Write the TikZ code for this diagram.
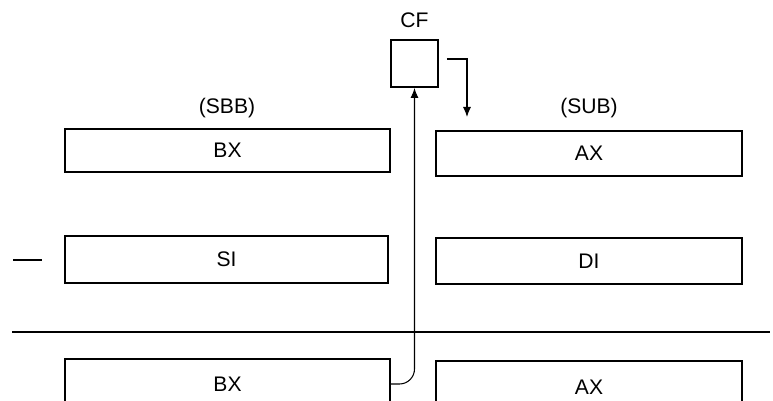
\documentclass[tikz,border=0pt]{standalone}
\usepackage{fontspec}
\setmainfont{Liberation Sans}
\usetikzlibrary{calc,arrows.meta}

\begin{document}
\begin{tikzpicture}[
    x=0.2mm, y=-0.2mm,
    reg/.style={draw, line width=1.1pt, minimum height=45*0.2mm, inner sep=0pt,
                font=\fontsize{12}{14}\selectfont},
    open/.style={minimum height=50*0.2mm, inner sep=0pt,
                 font=\fontsize{12}{14}\selectfont},
    lbl/.style={font=\fontsize{12}{14}\selectfont},
    flow/.style={line width=0.6pt, -{Latex[length=2mm, width=1.6mm]}}
]
\useasboundingbox (0,0) rectangle (773,401);

% carry flag
\node[reg, minimum width=47*0.2mm, minimum height=47*0.2mm] (cf) at (414.5,63.5) {};
\node[lbl] (cflbl) at (414.5,20) {CF};

% instruction labels
\node[lbl] (sbb) at (227,108) {(SBB)};
\node[lbl] (sub) at (589,108) {(SUB)};

% first row
\node[reg, minimum width=325*0.2mm, minimum height=43*0.2mm] (bx1) at (227.5,150.5) {BX};
\node[reg, minimum width=306*0.2mm] (ax1) at (589,153.5) {AX};

% second row
\node[reg, minimum width=323*0.2mm, minimum height=47*0.2mm] (si) at (226.5,259.5) {SI};
\node[reg, minimum width=306*0.2mm, minimum height=46*0.2mm] (di) at (589,261) {DI};
\draw[line width=1.1pt] (13,260) -- (42,260);

% result line
\draw[line width=1.1pt] (12,332) -- (770,332);

% results (open at the bottom)
\node[open, minimum width=325*0.2mm] (bx2) at (227.5,384) {BX};
\node[open, minimum width=306*0.2mm, minimum height=52*0.2mm] (ax2) at (589,387) {AX};
\draw[line width=1.1pt] (bx2.south west) -- (bx2.north west) -- (bx2.north east) -- (bx2.south east);
\draw[line width=1.1pt] (ax2.south west) -- (ax2.north west) -- (ax2.north east) -- (ax2.south east);

% borrow in and out
\coordinate (subin) at (467,117);
\draw[flow, rounded corners=3mm] (bx2.east) -| (cf.south);
\draw[flow] ([xshift=8*0.2mm, yshift=0.9mm]cf.east) -| (subin);

\end{tikzpicture}
\end{document}
